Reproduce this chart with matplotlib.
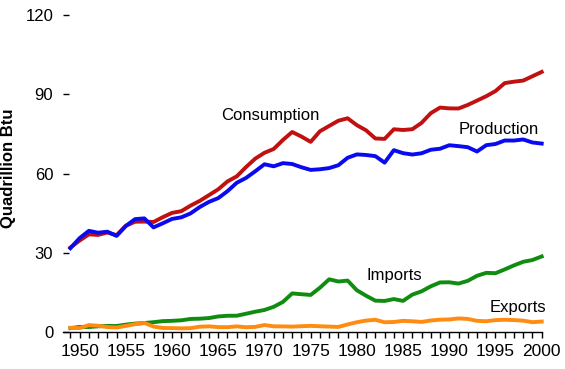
import numpy as np
import matplotlib
matplotlib.use('Agg')
import matplotlib.pyplot as plt

plt.rcParams['font.family'] = ['Liberation Sans', 'DejaVu Sans']

years = list(range(1949, 2001))

consumption = [31.98, 34.62, 36.97, 36.75, 37.66, 36.64, 40.21, 41.75, 41.79, 41.65,
               43.47, 45.09, 45.74, 47.83, 49.64, 51.82, 54.02, 57.01, 58.91, 62.42,
               65.62, 67.84, 69.29, 72.70, 75.71, 73.99, 71.97, 75.98, 78.00, 79.99,
               80.90, 78.29, 76.34, 73.25, 73.10, 76.74, 76.47, 76.76, 79.17, 82.84,
               84.96, 84.65, 84.61, 85.96, 87.60, 89.26, 91.21, 94.22, 94.76, 95.18,
               96.82, 98.46]

production = [31.72, 35.54, 38.29, 37.58, 37.97, 36.38, 40.15, 42.73, 43.01, 39.60,
              41.15, 42.80, 43.41, 44.89, 47.31, 49.27, 50.68, 53.31, 56.49, 58.31,
              60.83, 63.50, 62.72, 63.92, 63.59, 62.37, 61.36, 61.60, 62.05, 63.14,
              65.95, 67.23, 67.01, 66.57, 64.11, 68.83, 67.70, 67.18, 67.66, 68.99,
              69.37, 70.70, 70.36, 69.96, 68.32, 70.72, 71.17, 72.49, 72.47, 72.88,
              71.74, 71.33]

imports = [1.47, 1.91, 1.89, 2.15, 2.30, 2.27, 2.79, 3.18, 3.40, 3.72,
           4.11, 4.23, 4.43, 4.94, 5.04, 5.28, 5.89, 6.15, 6.16, 6.91,
           7.68, 8.34, 9.53, 11.39, 14.61, 14.30, 14.03, 16.76, 19.95, 19.11,
           19.46, 15.80, 13.72, 11.86, 11.75, 12.47, 11.78, 14.15, 15.40, 17.30,
           18.77, 18.82, 18.33, 19.37, 21.27, 22.39, 22.26, 23.70, 25.22, 26.58,
           27.25, 28.60]

exports = [1.59, 1.47, 2.62, 2.37, 1.87, 1.70, 2.29, 2.95, 3.44, 2.05,
           1.53, 1.48, 1.38, 1.46, 2.01, 2.13, 1.85, 1.83, 2.12, 1.80,
           1.93, 2.63, 2.15, 2.12, 2.03, 2.20, 2.32, 2.17, 2.05, 1.92,
           2.86, 3.70, 4.33, 4.62, 3.69, 3.79, 4.23, 4.06, 3.81, 4.37,
           4.66, 4.75, 5.14, 4.94, 4.23, 4.07, 4.51, 4.63, 4.51, 4.30,
           3.72, 3.96]

fig = plt.figure(figsize=(5.65, 3.69), dpi=100)
ax = fig.add_axes([63 / 565, 37 / 369, (541.7 - 63) / 565, (332 - 15) / 369])

lw = 2.8
ax.plot(years, consumption, color='#C01010', lw=lw, clip_on=False, solid_joinstyle='round')
ax.plot(years, production, color='#0A0AF0', lw=lw, clip_on=False, solid_joinstyle='round')
ax.plot(years, imports, color='#108C10', lw=lw, clip_on=False, solid_joinstyle='round')
ax.plot(years, exports, color='#FF8C10', lw=lw, clip_on=False, solid_joinstyle='round')

ax.text(1970.6, 82.0, 'Consumption', fontsize=12, ha='center', va='center')
ax.text(1995.3, 76.7, 'Production', fontsize=12, ha='center', va='center')
ax.text(1984.0, 21.3, 'Imports', fontsize=12, ha='center', va='center')
ax.text(1997.4, 9.3, 'Exports', fontsize=12, ha='center', va='center')

ax.set_xlim(1948.2, 2000)
ax.set_ylim(0, 120)
for s in ['left', 'right', 'top']:
    ax.spines[s].set_visible(False)
ax.spines['bottom'].set_linewidth(1.0)

ax.set_yticks([0, 30, 60, 90, 120])
ax.tick_params(axis='y', direction='in', length=4, width=1, pad=7, labelsize=12)
ax.set_xticks(range(1950, 2001, 5))
ax.set_xticks(range(1949, 2001), minor=True)
ax.tick_params(axis='x', which='both', direction='out', length=4.3, width=1, pad=4, labelsize=12.5)

fig.text(9 / 565, 1 - 168 / 369, 'Quadrillion Btu', rotation=90, fontsize=12,
         fontweight='bold', ha='center', va='center')

fig.savefig('out.png', dpi=100)
